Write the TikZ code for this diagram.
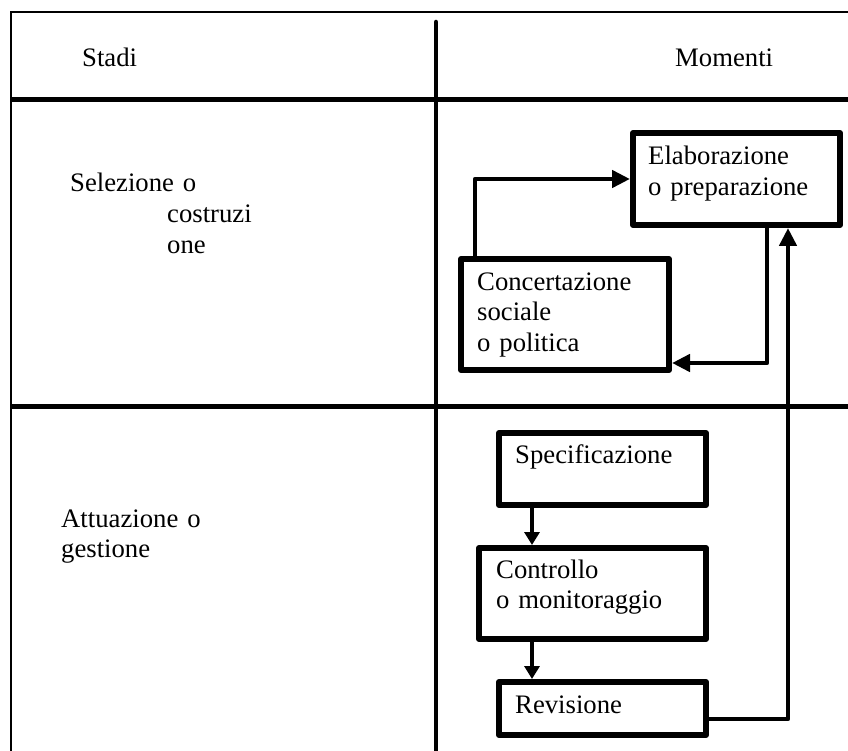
\documentclass[tikz,border=0pt]{standalone}
\usepackage{fontspec}
\setmainfont{Liberation Serif}
\usetikzlibrary{arrows.meta,calc}
\begin{document}
\begin{tikzpicture}[x=1pt,y=1pt,
  box/.style={draw, line width=6pt, line join=round, inner sep=0pt, anchor=north west},
  lbl/.style={inner sep=0pt, anchor=base west, text width=320pt, align=left,
    font=\fontsize{26.7}{30.7}\selectfont},
  arr/.style={line width=4.5pt, line join=round, -{Triangle[length=18pt,width=17pt]}},
  sarr/.style={line width=4.5pt, -{Triangle[length=13pt,width=15pt]}},
  rule/.style={line width=2pt},
  thick rule/.style={line width=5pt}]
\useasboundingbox (0,0) rectangle (848,-751);
% table lines
\draw[rule] (848,-12) -- (11,-12) -- (11,-751);
\draw[line width=4.5pt, line cap=round] (436,-22) -- (436,-753);
\draw[thick rule] (11,-100) -- (848,-100);
\draw[thick rule] (11,-406) -- (848,-406);
% headers
\node[lbl] (stadi) at (82,-67) {Stadi};
\node[lbl] (momenti) at (675,-67) {Momenti};
% left column
\node[lbl] (sel) at (70,-192) {Selezione o\\\hspace*{97pt}costruzi\\\hspace*{97pt}one};
\node[lbl] (att) at (61,-527) {Attuazione o\\gestione};
% boxes
\node[box, minimum width=207pt, minimum height=92pt] (elab) at (630,-130) {};
\node[box, minimum width=208pt, minimum height=111pt] (conc) at (458,-256) {};
\node[box, minimum width=207pt, minimum height=72pt] (spec) at (496,-430) {};
\node[box, minimum width=227pt, minimum height=91pt] (ctrl) at (476,-545) {};
\node[box, minimum width=207pt, minimum height=53pt] (rev) at (496,-679) {};
% box texts
\node[lbl] (elabt) at (648,-165) {Elaborazione\\o preparazione};
\node[lbl] (conct) at (477,-290) {Concertazione\\sociale\\o politica};
\node[lbl] (spect) at (515,-463) {Specificazione};
\node[lbl] (ctrlt) at (496,-578) {Controllo\\o monitoraggio};
\node[lbl] (revt) at (515,-713) {Revisione};
% connectors
\draw[arr] ([xshift=17pt]conc.north west) |- ([yshift=-49pt]elab.north west);
\draw[arr] ([xshift=-76pt]elab.south east) |- ([yshift=10pt]conc.south east);
\draw[arr] ([yshift=19pt]rev.south east) -| ([xshift=-55pt]elab.south east);
\draw[sarr] ([xshift=36pt]spec.south west) -- ([xshift=36pt]spec.south west |- ctrl.north);
\draw[sarr] ([xshift=56pt]ctrl.south west) -- ([xshift=56pt]ctrl.south west |- rev.north);
\end{tikzpicture}
\end{document}
